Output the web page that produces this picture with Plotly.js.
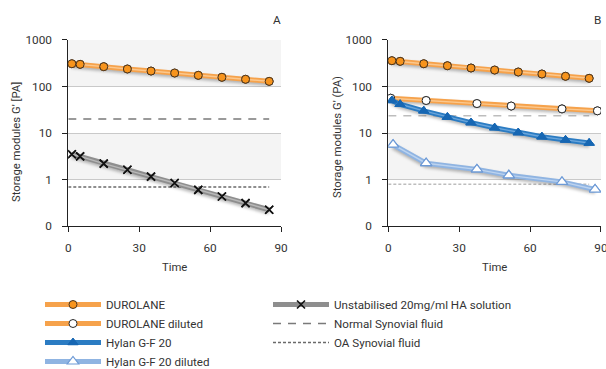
<!DOCTYPE html>
<html>
<head>
<meta charset="utf-8">
<script src="https://cdn.plot.ly/plotly-3.0.1.min.js"></script>
<style>
  html, body { margin: 0; padding: 0; background: #fff; }
  #chart { width: 606px; height: 369px; }
  [class*="traceband"] .js-line { filter: drop-shadow(0px 2px 1.5px rgba(0,0,0,0.28)); }
</style>
</head>
<body>
<div id="chart"></div>
<script>
// ---- data ----
var timeA = [1.5, 5, 15, 25, 35, 45, 55, 65, 75, 85];
var durolaneA = [309, 300, 267, 238, 215, 195, 174, 158, 143, 129];
var unstabilisedA = [3.5, 3.15, 2.2, 1.62, 1.15, 0.84, 0.6, 0.43, 0.31, 0.224];

var timeB = [1.5, 5, 15, 25, 35, 45, 55, 65, 75, 85];
var durolaneB = [359, 348, 309, 280, 250, 226, 205, 186, 166, 150];
var dilutedTime = [1, 16, 37.5, 52, 73.5, 88.5];
var durolaneDiluted = [56, 50, 43, 38, 33, 30];
var hylanTime = [1.5, 5, 15, 25, 35, 45, 55, 65, 75, 85];
var hylan = [50, 41.5, 30, 22, 16.7, 13, 10.2, 8.3, 7.1, 6.1];
var hylanDilTime = [2, 16, 37.5, 51, 73.5, 87.5];
var hylanDiluted = [5.6, 2.24, 1.65, 1.23, 0.89, 0.61];

var refLineTime = [0, 85];
var normalSynovialA = 20, oaSynovialA = 0.69;
var normalSynovialB = 23.5, oaSynovialB = 0.79;

var yTickVals = [0.1, 1, 10, 100, 1000];
var yTickText = ['0', '1', '10', '100', '1000'];
var xTickVals = [0, 30, 60, 90];
var shadedBands = [[100, 1000], [1, 10]];

var FONT = 'Roboto, Liberation Sans, sans-serif';
var FS = 11.3;
var TXT = '#333333';

var traces = [];
function series(x, y, ax, name, bandColor, hiColor, marker, legend, uid) {
  var xa = ax === 1 ? 'x' : 'x2', ya = ax === 1 ? 'y' : 'y2';
  traces.push({x: x, y: y, xaxis: xa, yaxis: ya, type: 'scatter', mode: 'lines+markers',
    name: name, uid: 'band' + uid, showlegend: !!legend, legend: legend || 'legend',
    line: {color: bandColor, width: 5}, marker: marker, hoverinfo: 'skip'});
  traces.push({x: x, y: y, xaxis: xa, yaxis: ya, type: 'scatter', mode: 'lines',
    showlegend: false, line: {color: hiColor, width: 1.4}, hoverinfo: 'skip'});
  traces.push({x: x, y: y, xaxis: xa, yaxis: ya, type: 'scatter', mode: 'markers',
    showlegend: false, marker: marker, hoverinfo: 'skip'});
}
function refLine(val, ax, name, color, dash, legend) {
  traces.push({x: refLineTime, y: refLineTime.map(function () { return val; }),
    xaxis: ax === 1 ? 'x' : 'x2', yaxis: ax === 1 ? 'y' : 'y2', type: 'scatter', mode: 'lines',
    name: name, showlegend: !!legend, legend: 'legend2',
    line: {color: color, width: 1.4, dash: dash}, hoverinfo: 'skip'});
}

var orangeM = {symbol: 'circle', size: 8, color: '#f7941d', line: {color: '#4a3520', width: 1}};
var orangeOpenM = {symbol: 'circle', size: 8, color: '#ffffff', line: {color: '#2a2a2a', width: 1}};
var blueM = {symbol: 'triangle-up', size: 9, color: '#1767b3', line: {color: '#1767b3', width: 1}};
var lightBlueM = {symbol: 'triangle-up', size: 10, color: '#ffffff', line: {color: '#6d9ad6', width: 1.2}};
var crossM = {symbol: 'x-thin', size: 8, color: '#111111', line: {color: '#111111', width: 1.6}};

// reference lines (panel A entries shown in legend)
refLine(normalSynovialA, 1, 'Normal Synovial fluid', '#7a7a7a', '8px,7px', true);
refLine(oaSynovialA, 1, 'OA Synovial fluid', '#6a6a6a', '3px,2px', true);
refLine(normalSynovialB, 2, 'Normal Synovial fluid', '#bdbdbd', '8px,7px', false);
refLine(oaSynovialB, 2, 'OA Synovial fluid', '#bdbdbd', '3px,2px', false);

// panel A
series(timeA, durolaneA, 1, 'DUROLANE', '#f6a24b', '#fbc88e', orangeM, null, 'a1');
series(timeA, unstabilisedA, 1, 'Unstabilised 20mg/ml HA solution', '#8e8e8e', '#b8b8b8', crossM, 'legend2', 'a2');
// panel B
series(timeB, durolaneB, 2, 'DUROLANE', '#f6a24b', '#fbc88e', orangeM, 'legend', 'b1');
series(dilutedTime, durolaneDiluted, 2, 'DUROLANE diluted', '#f6a24b', '#fbc88e', orangeOpenM, 'legend', 'b2');
series(hylanTime, hylan, 2, 'Hylan G-F 20', '#2b7cc3', '#6aa5db', blueM, 'legend', 'b3');
series(hylanDilTime, hylanDiluted, 2, 'Hylan G-F 20 diluted', '#8fb4e2', '#bcd3ef', lightBlueM, 'legend', 'b4');

traces.forEach(function (t) {
  if (t.name === 'Unstabilised 20mg/ml HA solution' && t.showlegend) t.legendrank = 1;
  if (t.name === 'Normal Synovial fluid' && t.showlegend) t.legendrank = 2;
  if (t.name === 'OA Synovial fluid' && t.showlegend) t.legendrank = 3;
});

function yAxis() {
  return {type: 'log', range: [-1, 3], domain: [0.3875, 0.8916], tickvals: yTickVals, ticktext: yTickText,
    showgrid: true, gridcolor: '#c9c9c9', gridwidth: 1, zeroline: false,
    showline: true, linecolor: '#222', linewidth: 1, ticks: 'outside', ticklen: 5, tickcolor: '#222',
    ticklabelstandoff: 8, ticklabeloverflow: 'allow', tickfont: {family: FONT, size: FS + 0.5, color: TXT}, fixedrange: true};
}
function xAxis(dom) {
  return {range: [0, 90], domain: dom, tickvals: xTickVals, showgrid: false, zeroline: false,
    showline: true, linecolor: '#222', linewidth: 1, ticks: 'outside', ticklen: 5, tickcolor: '#222',
    ticklabelstandoff: 6, ticklabeloverflow: 'allow', tickfont: {family: FONT, size: FS + 0.5, color: TXT},
    title: {text: 'Time', font: {family: FONT, size: FS, color: TXT}, standoff: 8}, fixedrange: true};
}

var ya = yAxis(); ya.anchor = 'x';
var ya2 = yAxis(); ya2.anchor = 'x2';

var shapes = [];
[['x', 'y'], ['x2', 'y2']].forEach(function (p) {
  shapes.push.apply(shapes, shadedBands.map(function (b) {
    return {type: 'rect', xref: p[0] + ' domain', yref: p[1], x0: 0, x1: 1, y0: b[0], y1: b[1],
      fillcolor: '#f4f4f4', line: {width: 0}, layer: 'below'};
  }));
});

var layout = {
  width: 606, height: 369, margin: {l: 0, r: 0, t: 0, b: 0, autoexpand: false},
  paper_bgcolor: '#ffffff', plot_bgcolor: 'rgba(0,0,0,0)',
  font: {family: FONT, size: FS, color: TXT},
  xaxis: xAxis([0.1127, 0.4637]), yaxis: ya,
  xaxis2: xAxis([0.6408, 0.9917]), yaxis2: ya2,
  shapes: shapes,
  showlegend: true,
  legend: {x: 40 / 606, y: 1 - 290 / 369, xanchor: 'left', yanchor: 'top', orientation: 'v', itemwidth: 56,
    font: {family: FONT, size: FS + 0.3, color: TXT}, bgcolor: 'rgba(0,0,0,0)', tracegroupgap: 0, traceorder: 'normal'},
  legend2: {x: 268 / 606, y: 1 - 290 / 369, xanchor: 'left', yanchor: 'top', orientation: 'v', itemwidth: 56,
    font: {family: FONT, size: FS + 0.3, color: TXT}, bgcolor: 'rgba(0,0,0,0)', tracegroupgap: 0, traceorder: 'normal'},
  annotations: [
    {text: 'A', xref: 'paper', yref: 'paper', x: 277 / 606, y: 1 - 20 / 369, xanchor: 'center', yanchor: 'middle',
      showarrow: false, font: {family: FONT, size: FS + 0.5, color: TXT}},
    {text: 'B', xref: 'paper', yref: 'paper', x: 597 / 606, y: 1 - 20 / 369, xanchor: 'center', yanchor: 'middle',
      showarrow: false, font: {family: FONT, size: FS + 0.5, color: TXT}},
    {text: "Storage modules G' [PA]", xref: 'paper', yref: 'paper', x: 16 / 606, y: 1 - 142 / 369,
      xanchor: 'center', yanchor: 'middle', textangle: -90, showarrow: false, font: {family: FONT, size: FS, color: TXT}},
    {text: "Storage modules G' (PA)", xref: 'paper', yref: 'paper', x: 337 / 606, y: 1 - 137 / 369,
      xanchor: 'center', yanchor: 'middle', textangle: -90, showarrow: false, font: {family: FONT, size: FS, color: TXT}}
  ]
};

Plotly.newPlot('chart', traces, layout, {displayModeBar: false, staticPlot: true});
</script>
</body>
</html>
